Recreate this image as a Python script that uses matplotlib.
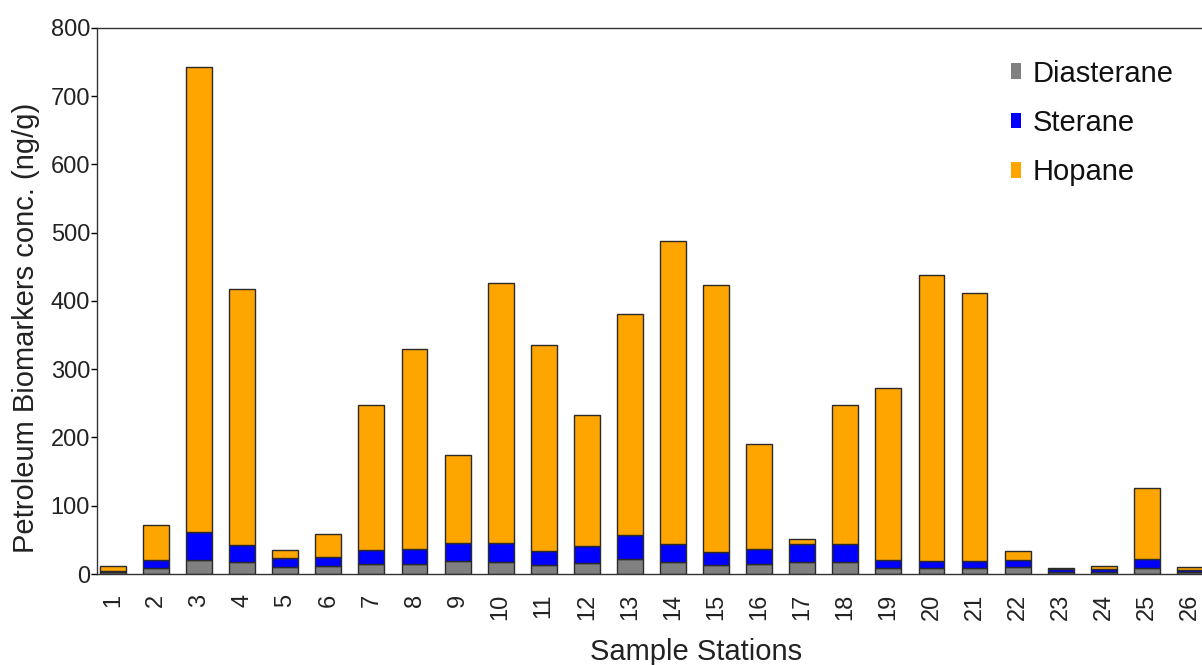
import matplotlib
matplotlib.use("Agg")
import matplotlib.pyplot as plt
from matplotlib.patches import Patch

plt.rcParams['font.family'] = ['Liberation Sans', 'DejaVu Sans']

stations = [str(i) for i in range(1, 27)]
diasterane = [3, 9, 20, 17, 11, 12, 14, 15, 19, 18, 13, 16, 22, 17, 13, 14, 18, 18, 9, 9, 9, 10, 3, 3, 9, 3]
sterane = [2, 11, 41, 26, 12, 13, 21, 21, 27, 27, 20, 25, 35, 27, 19, 22, 26, 26, 11, 10, 10, 11, 4, 4, 13, 3]
hopane = [7, 52, 682, 374, 12, 34, 213, 294, 128, 381, 303, 192, 324, 444, 391, 154, 7, 204, 253, 419, 393, 13, 2, 5, 104, 4]

fig = plt.figure(figsize=(12.02, 6.65), dpi=100)
ax = fig.add_axes([0.0807, 0.1368, 0.9193, 0.8214])

x = list(range(1, 27))
edge = '#2a2a2a'
bw = 0.6
ax.bar(x, diasterane, width=bw, color='#808080', edgecolor=edge, linewidth=1.0, label='Diasterane')
ax.bar(x, sterane, width=bw, bottom=diasterane, color='#0000FF', edgecolor=edge, linewidth=1.0, label='Sterane')
base2 = [d + s for d, s in zip(diasterane, sterane)]
ax.bar(x, hopane, width=bw, bottom=base2, color='#FFA500', edgecolor=edge, linewidth=1.0, label='Hopane')

ax.set_xlim(0.63, 26.28)
ax.set_ylim(0, 800)
ax.set_yticks(range(0, 801, 100))
ax.set_xticks(x)
ax.set_xticklabels(stations, rotation=90, fontsize=17, color='#222222')
ax.tick_params(axis='x', length=0, pad=14)
ax.tick_params(axis='y', length=4, width=1, labelsize=17, pad=1, labelcolor='#222222')
for s in ['left', 'bottom', 'top']:
    ax.spines[s].set_linewidth(1.0)
    ax.spines[s].set_color('#333333')
ax.spines['right'].set_visible(False)

ax.set_ylabel('Petroleum Biomarkers conc. (ng/g)', fontsize=21, color='#222222')
ax.yaxis.set_label_coords(-0.052, 0.45)
ax.set_xlabel('Sample Stations', fontsize=21, color='#222222')
ax.xaxis.set_label_coords(0.542, -0.118)

handles = [Patch(facecolor='#808080'), Patch(facecolor='#0000FF'), Patch(facecolor='#FFA500')]
leg = ax.legend(handles, ['Diasterane', 'Sterane', 'Hopane'], loc='upper right',
                bbox_to_anchor=(0.998, 0.99), frameon=False, fontsize=21,
                handlelength=0.33, handleheight=0.45, handletextpad=0.4, labelspacing=0.73)
for t in leg.get_texts():
    t.set_color('#111111')

fig.savefig('out.png', dpi=100)
